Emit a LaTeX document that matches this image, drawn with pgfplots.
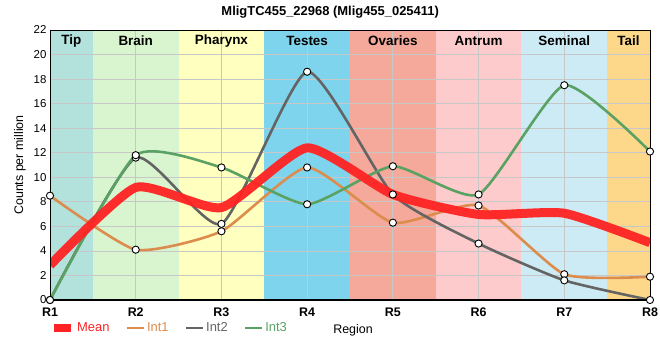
\documentclass[border=0pt]{standalone}
\usepackage{pgfplots}
\pgfplotsset{compat=1.18}
\usepackage{fontspec}
\setmainfont{Liberation Sans}
\definecolor{cTip}{RGB}{179,226,221}
\definecolor{cBrain}{RGB}{217,245,208}
\definecolor{cPharynx}{RGB}{255,255,191}
\definecolor{cTestes}{RGB}{126,212,236}
\definecolor{cOvaries}{RGB}{244,169,154}
\definecolor{cAntrum}{RGB}{253,203,203}
\definecolor{cSeminal}{RGB}{205,235,244}
\definecolor{cTail}{RGB}{253,216,138}
\definecolor{cMean}{RGB}{255,35,35}
\definecolor{cInt1}{RGB}{220,140,76}
\definecolor{cInt2}{RGB}{100,100,100}
\definecolor{cInt3}{RGB}{90,162,100}
\begin{document}
\begin{tikzpicture}
\begin{axis}[
  at={(0,0)}, anchor=south west,
  scale only axis, width=600bp, height=270bp,
  set layers,
  xmin=1, xmax=8, ymin=0, ymax=22,
  xtick={1,2,3,4,5,6,7,8},
  xticklabels={R1,R2,R3,R4,R5,R6,R7,R8},
  ytick={0,2,4,6,8,10,12,14,16,18,20,22},
  major tick length=0pt,
  grid=major,
  grid style={draw=black!22, line width=0.8bp},
  axis line style={line width=0.8bp},
  yticklabel style={font=\fontsize{11.5}{12}\selectfont, xshift=0bp},
  xticklabel style={font=\bfseries\fontsize{12.5}{13}\selectfont, yshift=-4bp},
  /pgf/number format/assume math mode=true,
  title={\bfseries MligTC455\_22968 (Mlig455\_025411)},
  title style={at={(axis description cs:0.467,1.045)}, anchor=center, font=\fontsize{13}{15}\selectfont},
  ylabel={Counts per million},
  ylabel style={at={(axis description cs:-0.05,0.5)}, rotate=0, anchor=center, font=\fontsize{12.5}{14}\selectfont},
  xlabel={Region},
  xlabel style={at={(axis description cs:0.505,-0.113)}, anchor=center, font=\fontsize{12.5}{14}\selectfont},
  legend columns=4,
  legend style={at={(axis description cs:-0.005,-0.104)}, anchor=west, draw=none, fill=none,
    font=\fontsize{13}{15}\selectfont, /tikz/every even column/.append style={column sep=14bp}},
  legend cell align=left,
]
\begin{pgfonlayer}{axis background}
\fill[cTip] (axis cs:1,0) rectangle (axis cs:1.5,22);
\fill[cBrain] (axis cs:1.5,0) rectangle (axis cs:2.5,22);
\fill[cPharynx] (axis cs:2.5,0) rectangle (axis cs:3.5,22);
\fill[cTestes] (axis cs:3.5,0) rectangle (axis cs:4.5,22);
\fill[cOvaries] (axis cs:4.5,0) rectangle (axis cs:5.5,22);
\fill[cAntrum] (axis cs:5.5,0) rectangle (axis cs:6.5,22);
\fill[cSeminal] (axis cs:6.5,0) rectangle (axis cs:7.5,22);
\fill[cTail] (axis cs:7.5,0) rectangle (axis cs:8,22);
\end{pgfonlayer}

\addlegendimage{line width=8bp, cMean}
\addlegendentry{\textcolor{cMean}{Mean}}
\addlegendimage{line width=2.5bp, cInt1}
\addlegendentry{\textcolor{cInt1}{Int1}}
\addlegendimage{line width=2.5bp, cInt2}
\addlegendentry{\textcolor{cInt2}{Int2}}
\addlegendimage{line width=2.5bp, cInt3}
\addlegendentry{\textcolor{cInt3}{Int3}}

% Int lines
\addplot[forget plot, cInt1, line width=2.6bp, smooth, tension=0.33, no markers] coordinates {
 (1,8.5) (2,4.1) (3,5.6) (4,10.8) (5,6.3) (6,7.7) (7,2.1) (8,1.9)};
\addplot[forget plot, cInt2, line width=2.6bp, smooth, tension=0.33, no markers] coordinates {
 (1,0) (2,11.6) (3,6.2) (4,18.6) (5,8.6) (6,4.6) (7,1.6) (8,0)};
\addplot[forget plot, cInt3, line width=2.6bp, smooth, tension=0.33, no markers] coordinates {
 (1,0) (2,11.8) (3,10.8) (4,7.8) (5,10.9) (6,8.6) (7,17.5) (8,12.1)};
% Mean
\addplot[forget plot, cMean, opacity=0.95, line width=9bp, smooth, tension=0.33, no markers] coordinates {
 (1,2.83) (2,9.17) (3,7.53) (4,12.4) (5,8.6) (6,6.97) (7,7.07) (8,4.67)};
% markers
\addplot[forget plot, only marks, mark=*, mark size=3.6bp, mark options={fill=white, draw=black, line width=0.9bp}] coordinates {
 (1,8.5) (2,4.1) (3,5.6) (4,10.8) (5,6.3) (6,7.7) (7,2.1) (8,1.9)};
\addplot[forget plot, only marks, mark=*, mark size=3.6bp, mark options={fill=white, draw=black, line width=0.9bp}] coordinates {
 (1,0) (2,11.6) (3,6.2) (4,18.6) (5,8.6) (6,4.6) (7,1.6) (8,0)};
\addplot[forget plot, only marks, mark=*, mark size=3.6bp, mark options={fill=white, draw=black, line width=0.9bp}] coordinates {
 (1,0) (2,11.8) (3,10.8) (4,7.8) (5,10.9) (6,8.6) (7,17.5) (8,12.1)};

% band labels
\node[font=\bfseries\fontsize{13.5}{15}\selectfont] at (axis cs:1.25,21.1) {Tip};
\node[font=\bfseries\fontsize{13.5}{15}\selectfont] at (axis cs:2,21.1) {Brain};
\node[font=\bfseries\fontsize{13.5}{15}\selectfont] at (axis cs:3,21.1) {Pharynx};
\node[font=\bfseries\fontsize{13.5}{15}\selectfont] at (axis cs:4,21.1) {Testes};
\node[font=\bfseries\fontsize{13.5}{15}\selectfont] at (axis cs:5,21.1) {Ovaries};
\node[font=\bfseries\fontsize{13.5}{15}\selectfont] at (axis cs:6,21.1) {Antrum};
\node[font=\bfseries\fontsize{13.5}{15}\selectfont] at (axis cs:7,21.1) {Seminal};
\node[font=\bfseries\fontsize{13.5}{15}\selectfont] at (axis cs:7.75,21.1) {Tail};
\draw[black, line width=2.2bp] (rel axis cs:0,1) -- (rel axis cs:0,0) -- (rel axis cs:1,0);
\end{axis}
\pgfresetboundingbox
\useasboundingbox (-50bp,-60bp) rectangle (610bp,300bp);
\end{tikzpicture}
\end{document}
